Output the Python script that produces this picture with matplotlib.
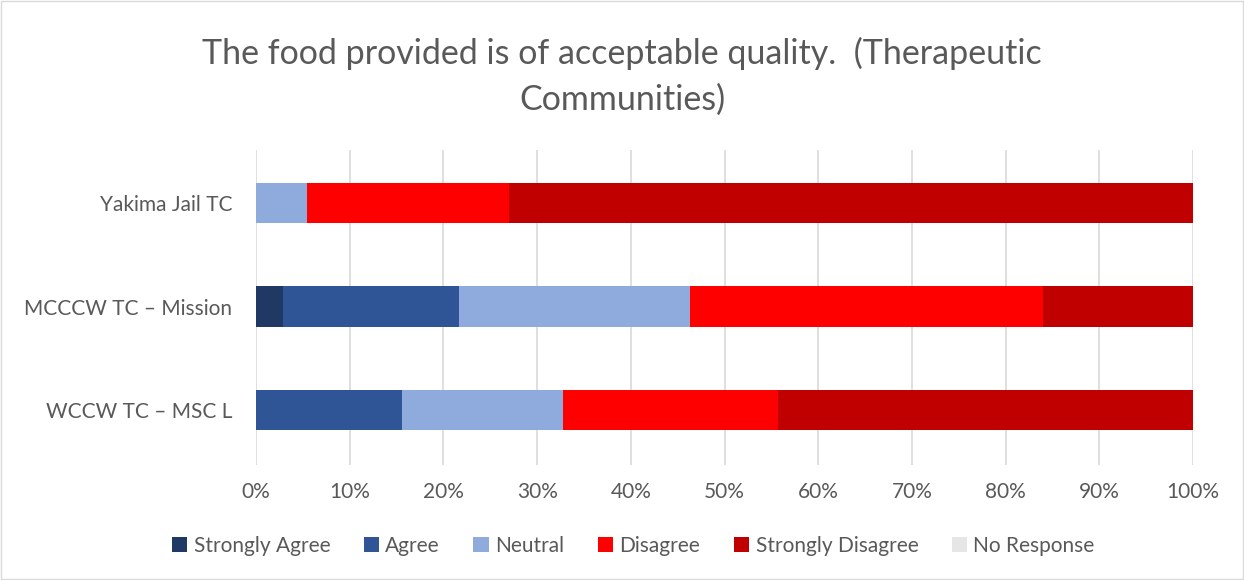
import matplotlib
matplotlib.use("Agg")
import matplotlib.pyplot as plt
import numpy as np

plt.rcParams['font.family'] = ['Lato', 'DejaVu Sans']

# data (percent of respondents)
sites = ["WCCW TC \u2013 MSC L", "MCCCW TC \u2013 Mission", "Yakima Jail TC"]
responses = ["Strongly Agree", "Agree", "Neutral", "Disagree", "Strongly Disagree", "No Response"]
strongly_agree = [0.0, 2.9, 0.0]
agree = [15.6, 18.8, 0.0]
neutral = [17.2, 24.6, 5.4]
disagree = [22.9, 37.7, 21.6]
strongly_disagree = [44.3, 16.0, 73.0]
no_response = [0.0, 0.0, 0.0]
colors = ["#1f3864", "#2f5597", "#8faadc", "#ff0000", "#c00000", "#e7e6e6"]

series = [strongly_agree, agree, neutral, disagree, strongly_disagree, no_response]

fig = plt.figure(figsize=(12.44, 5.80), dpi=100)
ax = fig.add_axes([0.2058, 0.198, 0.959 - 0.2058, 0.543])

y = np.arange(len(sites))
left = np.zeros(len(sites))
for vals, lab, col in zip(series, responses, colors):
    vals = np.array(vals)
    ax.barh(y, vals, left=left, height=0.39, color=col, label=lab, zorder=3)
    left += vals

ax.set_xlim(0, 100)
ax.set_ylim(-0.53, 2.51)
ax.set_xticks(np.arange(0, 101, 10))
ax.set_xticklabels([f"{v}%" for v in range(0, 101, 10)])
ax.set_yticks(y)
ax.set_yticklabels(sites)
ax.grid(axis='x', color='#d9d9d9', linewidth=1.2, zorder=0)
for s in ax.spines.values():
    s.set_visible(False)
ax.tick_params(length=0, labelsize=15, colors='#595959')
ax.tick_params(axis='x', pad=12)
ax.tick_params(axis='y', pad=17)

fig.text(0.5, 0.868, "The food provided is of acceptable quality.  (Therapeutic\nCommunities)",
         ha='center', va='center', fontsize=24.5, color='#595959', linespacing=1.5)

ax.legend(loc='center', bbox_to_anchor=(0.509, 0.059), bbox_transform=fig.transFigure,
          ncol=6, frameon=False, fontsize=15, labelcolor='#595959',
          handlelength=0.75, handleheight=0.75, handletextpad=0.3, columnspacing=1.6)

fig.patches.append(plt.Rectangle((0.001, 0.001), 0.998, 0.998, transform=fig.transFigure,
                                 fill=False, edgecolor='#d9d9d9', linewidth=1))

plt.savefig("out.png", dpi=100)
